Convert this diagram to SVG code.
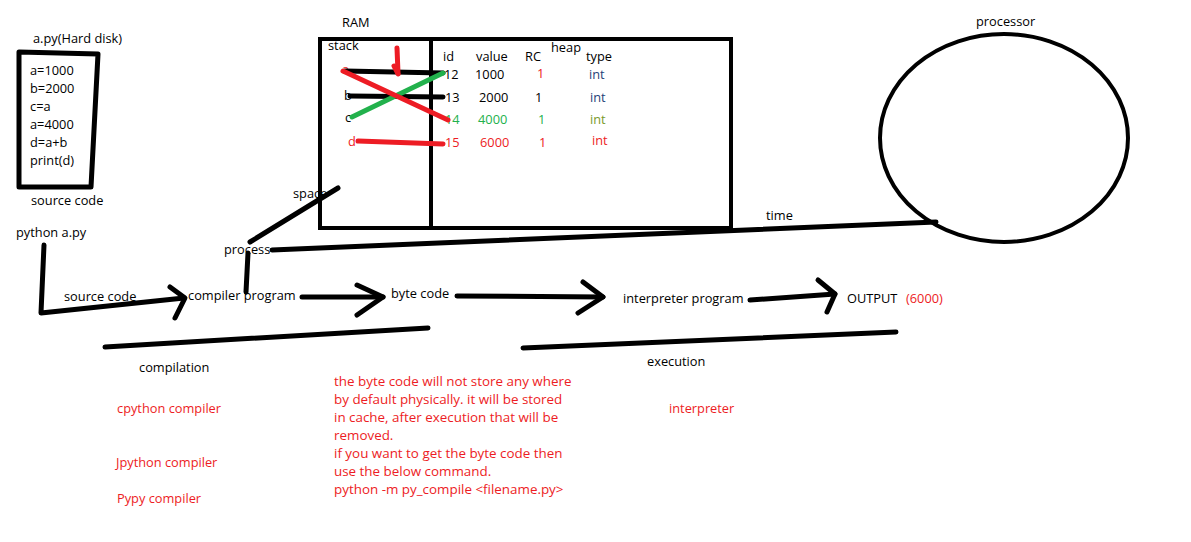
<svg xmlns="http://www.w3.org/2000/svg" width="1191" height="542" viewBox="0 0 1191 542">
<style>
text{font-family:"Open Sans","Noto Sans",sans-serif;font-size:12.8px;fill:#000}
.r{fill:#ed1c24}
.p{font-size:13.4px}
.g{fill:#22b14c}
.o{fill:#7a9a2a}
.bl{fill:#1f3f78}
.k{stroke:#000;stroke-width:5;fill:none;stroke-linecap:round;stroke-linejoin:round}
.kb{stroke:#000;stroke-width:4;fill:none}
.rl{stroke:#ed1c24;stroke-width:5;fill:none;stroke-linecap:round}
.gl{stroke:#22b14c;stroke-width:5;fill:none;stroke-linecap:round}
</style>
<rect width="1191" height="542" fill="#fff"/>

<g id="source-file">
<text x="33" y="43">a.py(Hard disk)</text>
<path class="k" d="M19,52 L98,54 L91,187 L19,187 Z"/>
<text x="30" y="75">a=1000</text>
<text x="30" y="93">b=2000</text>
<text x="30" y="111">c=a</text>
<text x="30" y="129">a=4000</text>
<text x="30" y="147">d=a+b</text>
<text x="30" y="165">print(d)</text>
<text x="31" y="205">source code</text>
</g>

<g id="command"><text x="16" y="237">python a.py</text></g>

<g id="ram">
<text x="342" y="27">RAM</text>
<rect class="kb" x="320" y="39" width="411" height="189"/>
<line class="kb" x1="431" y1="39" x2="431" y2="228"/>
<text x="328" y="50">stack</text>
<text x="551" y="52">heap</text>
<text x="443" y="61">id</text>
<text x="476" y="61">value</text>
<text x="525" y="61">RC</text>
<text x="586" y="61">type</text>
<text class="r" x="342" y="74">a</text>
<text x="444" y="79">12</text>
<text x="475" y="79">1000</text>
<text class="r" x="537" y="78">1</text>
<text class="bl" x="589" y="79">int</text>
<text x="344" y="100">b</text>
<text x="445" y="102">13</text>
<text x="479" y="102">2000</text>
<text x="535" y="102">1</text>
<text class="bl" x="590" y="102">int</text>
<text x="345" y="122">c</text>
<text class="g" x="445" y="124">14</text>
<text class="g" x="478" y="124">4000</text>
<text class="g" x="538" y="124">1</text>
<text class="o" x="590" y="124">int</text>
<text class="r" x="348" y="146">d</text>
<text class="r" x="445" y="147">15</text>
<text class="r" x="480" y="147">6000</text>
<text class="r" x="539" y="147">1</text>
<text class="r" x="592" y="145">int</text>
</g>

<g id="processor">
<text x="976" y="26">processor</text>
<ellipse class="kb" cx="1004" cy="138" rx="124" ry="104"/>
</g>

<g id="labels">
<text x="293" y="198">space</text>
<text x="224" y="254">process</text>
<text x="766" y="220">time</text>
<text x="64" y="301">source code</text>
<text x="188" y="300">compiler program</text>
<text x="391" y="298">byte code</text>
<text x="623" y="303">interpreter program</text>
<text x="847" y="303">OUTPUT</text>
<text class="r" x="906" y="303">(6000)</text>
<text x="139" y="372">compilation</text>
<text x="647" y="366">execution</text>
<text class="r" x="117" y="413">cpython compiler</text>
<text class="r" x="116" y="467">Jpython compiler</text>
<text class="r" x="117" y="503">Pypy compiler</text>
<text class="r" x="669" y="413">interpreter</text>
<text class="r p" x="334" y="386">the byte code will not store any where</text>
<text class="r p" x="334" y="404">by default physically. it will be stored</text>
<text class="r p" x="334" y="422">in cache, after execution that will be</text>
<text class="r p" x="334" y="440">removed.</text>
<text class="r p" x="334" y="458">if you want to get the byte code then</text>
<text class="r p" x="334" y="476">use the below command.</text>
<text class="r p" x="334" y="494">python -m py_compile &lt;filename.py&gt;</text>
</g>

<g id="connectors">
<line class="k" x1="345" y1="71" x2="443" y2="73"/>
<line class="k" x1="350" y1="96" x2="443" y2="97"/>
<line class="gl" x1="352" y1="117" x2="443" y2="73"/>
<line class="rl" x1="343" y1="71" x2="448" y2="120"/>
<line class="rl" x1="397" y1="48" x2="398" y2="73"/>
<line class="rl" x1="394" y1="66" x2="398" y2="74"/>
<line class="rl" x1="358" y1="141" x2="443" y2="144"/>
<line class="k" x1="250" y1="242" x2="338" y2="188"/>
<line class="k" x1="272" y1="250" x2="936" y2="222"/>
<line class="k" x1="248" y1="253" x2="246" y2="292"/>
<path class="k" d="M44,245 L41,313 L184,298"/>
<path class="k" d="M170,287 L185,298 L175,318"/>
<line class="k" x1="302" y1="297" x2="383" y2="297"/>
<path class="k" d="M357,285 L383,297 L357,315"/>
<line class="k" x1="457" y1="296" x2="603" y2="297"/>
<path class="k" d="M583,282 L603,297 L578,313"/>
<line class="k" x1="750" y1="300" x2="835" y2="294"/>
<path class="k" d="M818,280 L835,294 L827,312"/>
<line class="k" x1="105" y1="347" x2="428" y2="328"/>
<line class="k" x1="523" y1="348" x2="896" y2="332"/>
</g>
</svg>
